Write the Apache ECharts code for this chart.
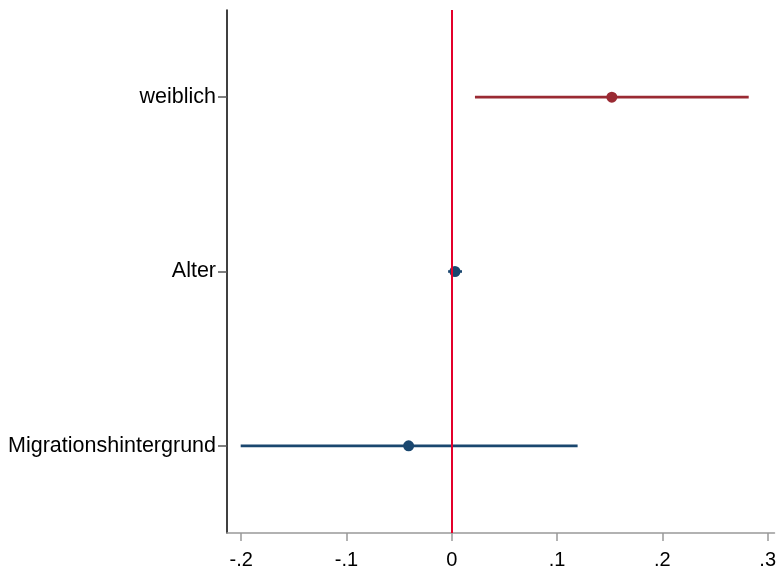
<!DOCTYPE html>
<html>
<head>
<meta charset="utf-8">
<script src="https://cdn.jsdelivr.net/npm/echarts@6/dist/echarts.min.js"></script>
<style>
  html, body { margin: 0; padding: 0; background: #fff; }
  #chart { width: 779px; height: 572px; }
</style>
</head>
<body>
<div id="chart"></div>
<script>
// Koeffizienten mit Konfidenzintervallen
const categories = ['weiblich', 'Alter', 'Migrationshintergrund'];
const estimates = [0.152, 0.003, -0.041];
const lower = [0.022, -0.0035, -0.2005];
const upper = [0.282, 0.0097, 0.1195];
const colors = ['#9a2a33', '#1a476f', '#1a476f'];
const xTicks = [-0.2, -0.1, 0, 0.1, 0.2, 0.3];

const fmt = v => {
  if (Math.abs(v) < 1e-9) return '0';
  const s = v.toFixed(1);
  return s.replace('0.', '.');
};

const ciData = categories.map((c, i) => [lower[i], upper[i], i + 1]);
const pointData = categories.map((c, i) => ({
  value: [estimates[i], i + 1],
  itemStyle: { color: colors[i], opacity: 1 }
}));

const myChart = echarts.init(document.getElementById('chart'));
const option = {
  animation: false,
  grid: { left: 227, right: 0, top: 10, bottom: 39 },
  xAxis: {
    type: 'value',
    min: -0.2135,
    max: 0.3065,
    splitLine: { show: false },
    axisLine: { onZero: false, lineStyle: { color: '#999', width: 1.5 } },
    axisTick: { show: true, length: 8, customValues: xTicks, lineStyle: { color: '#999', width: 1.5 } },
    axisLabel: {
      customValues: xTicks,
      formatter: fmt,
      margin: 17,
      fontSize: 20,
      color: '#000',
      fontFamily: 'Liberation Sans'
    }
  },
  yAxis: {
    type: 'value',
    inverse: true,
    min: 0.5,
    max: 3.5,
    splitLine: { show: false },
    axisLine: { show: true, onZero: false, lineStyle: { color: '#000', width: 1.5 } },
    axisTick: { show: true, length: 9, customValues: [1, 2, 3], lineStyle: { color: '#555', width: 1.5 } },
    axisLabel: {
      customValues: [1, 2, 3],
      formatter: v => categories[Math.round(v) - 1],
      margin: 11,
      fontSize: 21.5,
      lineHeight: 22,
      padding: [5, 0, 0, 0],
      color: '#000',
      fontFamily: 'Liberation Sans'
    }
  },
  series: [
    {
      type: 'custom',
      data: ciData,
      renderItem: (params, api) => {
        const i = api.value(2);
        const p1 = api.coord([api.value(0), i]);
        const p2 = api.coord([api.value(1), i]);
        return {
          type: 'line',
          shape: { x1: p1[0], y1: p1[1], x2: p2[0], y2: p2[1] },
          style: { stroke: colors[i - 1], lineWidth: 2.6 }
        };
      },
      z: 3
    },
    {
      type: 'scatter',
      data: pointData,
      symbolSize: 11,
      z: 4,
      markLine: {
        silent: true,
        symbol: 'none',
        label: { show: false },
        lineStyle: { color: '#e4002b', width: 2, type: 'solid' },
        data: [{ xAxis: 0 }]
      }
    }
  ]
};
myChart.setOption(option);
</script>
</body>
</html>
